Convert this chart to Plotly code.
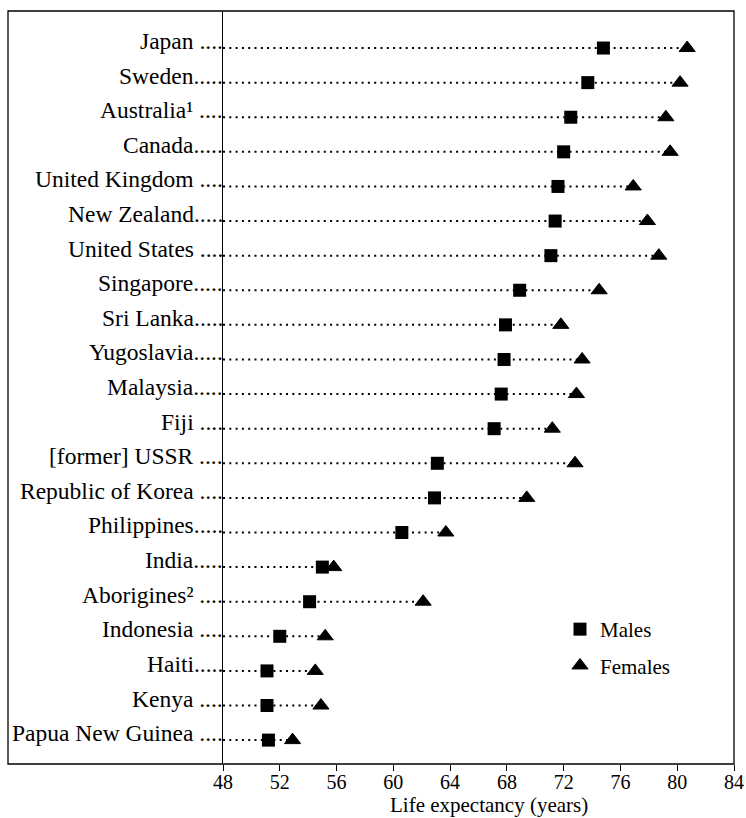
import plotly.graph_objects as go

# Life expectancy at birth, by sex
countries = [
    "Japan", "Sweden", "Australia¹", "Canada", "United Kingdom", "New Zealand",
    "United States", "Singapore", "Sri Lanka", "Yugoslavia", "Malaysia", "Fiji",
    "[former] USSR", "Republic of Korea", "Philippines", "India", "Aborigines²",
    "Indonesia", "Haiti", "Kenya", "Papua New Guinea",
]
males = [74.8, 73.7, 72.5, 72.0, 71.6, 71.4, 71.1, 68.9, 67.9, 67.8, 67.6,
         67.1, 63.1, 62.9, 60.6, 55.0, 54.1, 52.0, 51.1, 51.1, 51.2]
females = [80.7, 80.2, 79.2, 79.5, 76.9, 77.9, 78.7, 74.5, 71.8, 73.3, 72.9,
           71.2, 72.8, 69.4, 63.7, 55.8, 62.1, 55.2, 54.5, 54.9, 52.9]
# labels whose leader dots follow a space
spaced_leaders = {
    "Japan", "Australia¹", "United Kingdom", "United States", "Fiji",
    "[former] USSR", "Republic of Korea", "Aborigines²", "Indonesia",
    "Kenya", "Papua New Guinea",
}
x_ticks = [48, 52, 56, 60, 64, 68, 72, 76, 80, 84]
x_title = "Life expectancy (years)"

FONT = "Liberation Serif"
W, H = 746, 818
ML, MR, MT, MB = 8, 12, 11, 54
plot_w = W - ML - MR
plot_h = H - MT - MB

n = len(countries)
rows = [n - 1 - i for i in range(n)]  # first country at the top

# dotted leaders from the axis to the furthest marker of each row
lx, ly = [], []
for r, m, f in zip(rows, males, females):
    lx += [x_ticks[0], max(m, f), None]
    ly += [r, r, None]

fig = go.Figure()
fig.add_trace(go.Scatter(
    x=lx, y=ly, mode="lines", showlegend=False, hoverinfo="skip",
    line=dict(color="black", width=2, dash="2px,4.3px"),
))
fig.add_trace(go.Scatter(
    x=males, y=rows, mode="markers", name="Males", legendgroup="m",
    marker=dict(symbol="square", size=13, color="black"),
))
fig.add_trace(go.Scatter(
    x=females, y=rows, mode="markers", name="Females", legendgroup="f",
    marker=dict(symbol="triangle-up", size=14, color="black",
                line=dict(color="black", width=1)),
))

# row labels with typographic leader dots running up to the axis
for name, r in zip(countries, rows):
    leader = " ...." if name in spaced_leaders else "....."
    fig.add_annotation(
        x=x_ticks[0], y=r, xref="x", yref="y", text=name + leader,
        xanchor="right", yanchor="middle", showarrow=False,
        borderpad=0, borderwidth=0, yshift=7,
        font=dict(family=FONT, size=23.5, color="black"),
    )

# axis title, set slightly right of the axis centre
fig.add_annotation(
    x=(489 - ML) / plot_w, y=-(805 - MT - plot_h) / plot_h,
    xref="paper", yref="paper", text=x_title, showarrow=False,
    xanchor="center", yanchor="middle", borderpad=0, borderwidth=0,
    font=dict(family=FONT, size=21, color="black"),
)

# frame around the whole chart area
fig.add_shape(type="rect", xref="paper", yref="paper", x0=0, x1=1, y0=0, y1=1,
              line=dict(color="black", width=1.3), layer="above")

fig.update_layout(
    width=W, height=H,
    margin=dict(l=ML, r=MR, t=MT, b=MB),
    paper_bgcolor="white", plot_bgcolor="white",
    font=dict(family=FONT, color="black"),
    xaxis=dict(
        domain=[(223 - ML) / plot_w, 1],
        range=[x_ticks[0], x_ticks[-1]],
        tickvals=x_ticks, ticks="outside", ticklen=6, tickwidth=1,
        tickcolor="black", showgrid=False, zeroline=False, showline=False,
        tickfont=dict(family=FONT, size=20, color="black"),
        ticklabelstandoff=-6,
        automargin=False,
    ),
    yaxis=dict(
        range=[-0.69, n - 1 + 1.07],
        showticklabels=False, ticks="", showgrid=False, zeroline=False,
        showline=True, linecolor="black", linewidth=1,
        automargin=False,
    ),
    legend=dict(
        x=(560 - ML) / plot_w, y=(764 - 609) / plot_h,
        xanchor="left", yanchor="top", bgcolor="rgba(0,0,0,0)",
        tracegroupgap=6,
        font=dict(family=FONT, size=21, color="black"),
    ),
    showlegend=True,
)

fig.write_html("out.html")
